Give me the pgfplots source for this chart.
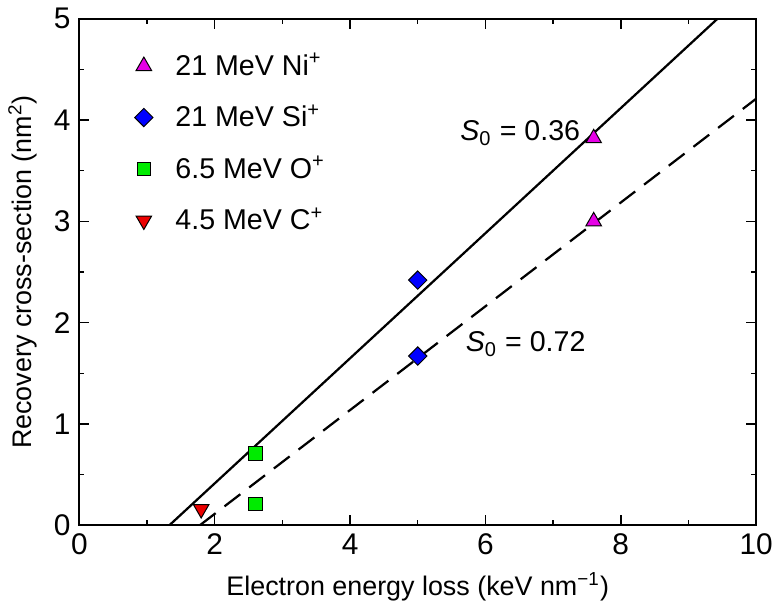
\documentclass[border=0pt]{standalone}
\usepackage{fontspec}
\setmainfont{Liberation Sans}
\usepackage{pgfplots}
\pgfplotsset{compat=1.18}
\definecolor{nimag}{RGB}{230,0,230}
\definecolor{siblue}{RGB}{0,0,255}
\definecolor{ogreen}{RGB}{0,235,0}
\definecolor{cred}{RGB}{235,0,0}
\begin{document}
\begin{tikzpicture}
\begin{axis}[
  width=272pt, height=203.6pt,
  scale only axis,
  xmin=0, xmax=10, ymin=0, ymax=5,
  xtick={0,2,...,10}, ytick={0,1,...,5},
  minor tick num=1,
  tick align=inside,
  major tick length=4pt, minor tick length=2pt,
  every tick/.style={black, line width=0.6pt},
  axis line style={line width=0.8pt},
  /pgf/number format/assume math mode=true,
  ticklabel style={font=\fontsize{12}{14}\selectfont},
  label style={font=\fontsize{10.8}{13}\selectfont},
  xlabel={Electron energy loss (keV nm\textsuperscript{−1})},
  ylabel={Recovery cross-section (nm\textsuperscript{2})},
  legend style={draw=none, fill=none, at={(0.07,0.953)}, anchor=north west,
    font=\fontsize{11.5}{13}\selectfont, row sep=6.2pt,
    legend cell align=left,
    /tikz/every odd column/.append style={column sep=7pt}},
]
% fitted lines
\addplot[black, line width=0.9pt, forget plot] coordinates {(1.33,0) (9.43,5)};
\addplot[black, line width=0.9pt, dash pattern=on 8pt off 4.5pt, forget plot] coordinates {(1.78,0) (10,4.21)};
% data
\addplot[only marks, mark=triangle*, mark size=3.6pt, mark options={fill=nimag, draw=black, line width=0.4pt}]
  coordinates {(7.6,3.82) (7.6,3.0)};
\addlegendentry{21 MeV Ni\textsuperscript{+}}
\addplot[only marks, mark=square*, mark size=2.6pt, mark options={rotate=45, fill=siblue, draw=black, line width=0.4pt}]
  coordinates {(5,2.42) (5,1.67)};
\addlegendentry{21 MeV Si\textsuperscript{+}}
\addplot[only marks, mark=square*, mark size=2.75pt, mark options={fill=ogreen, draw=black, line width=0.4pt}]
  coordinates {(2.6,0.71) (2.6,0.21)};
\addlegendentry{6.5 MeV O\textsuperscript{+}}
\addplot[only marks, mark=triangle*, mark size=3.6pt, mark options={rotate=180, fill=cred, draw=black, line width=0.4pt}]
  coordinates {(1.8,0.16)};
\addlegendentry{4.5 MeV C\textsuperscript{+}}
\node[anchor=west, font=\fontsize{11.5}{13}\selectfont] at (axis cs:5.5,3.87) {\textit{S}\textsubscript{0} = 0.36};
\node[anchor=west, font=\fontsize{11.5}{13}\selectfont] at (axis cs:5.58,1.79) {\textit{S}\textsubscript{0} = 0.72};
\end{axis}
\end{tikzpicture}
\end{document}
